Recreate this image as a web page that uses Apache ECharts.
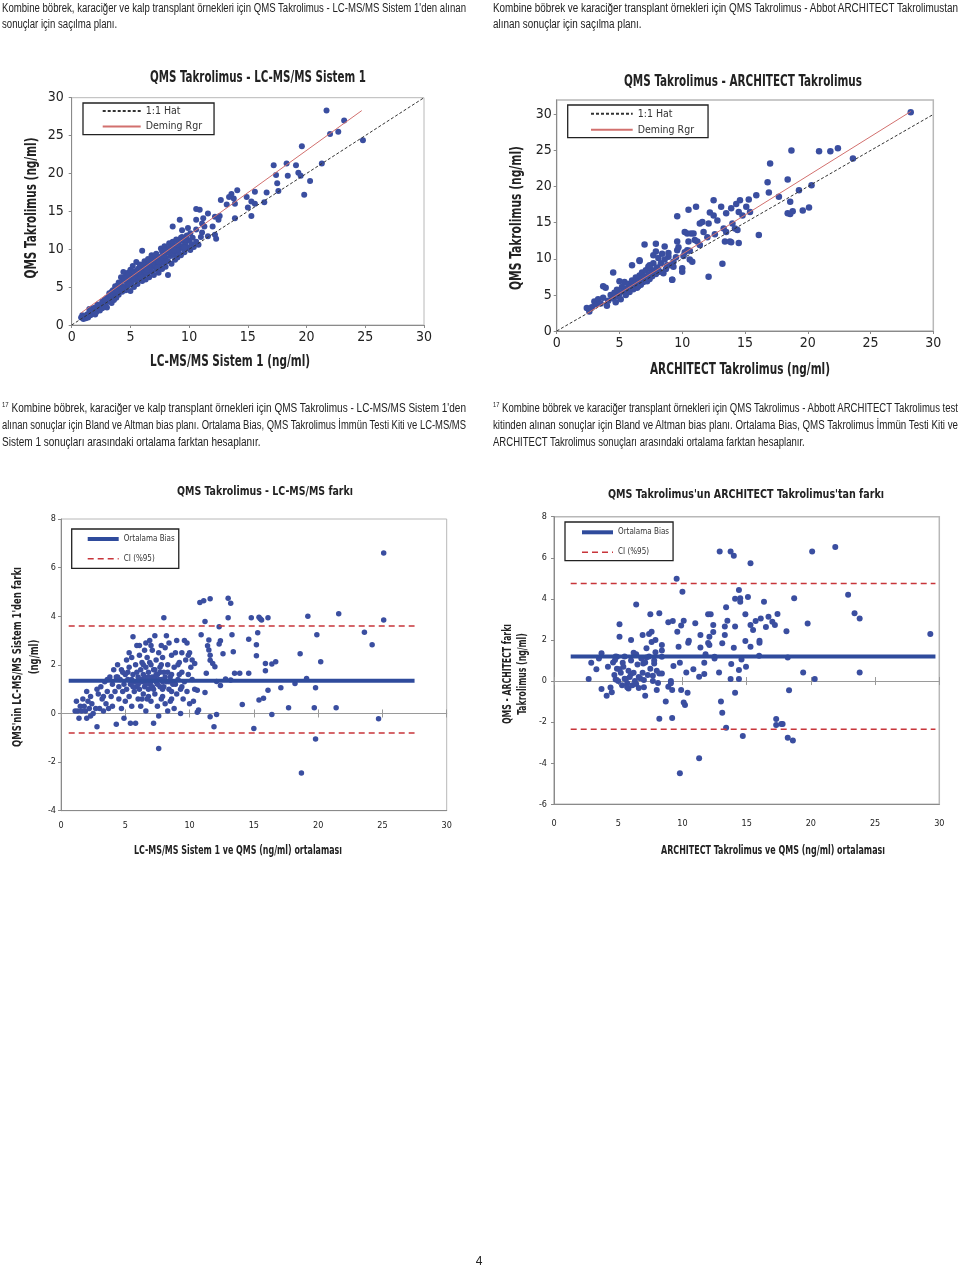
<!DOCTYPE html>
<html><head><meta charset="utf-8">
<script src="https://cdn.jsdelivr.net/npm/echarts@6/dist/echarts.min.js"></script>
<style>
html,body{margin:0;padding:0;background:#fff;}
#chart{position:absolute;left:0;top:0;width:960px;height:1269px;}
.blk{position:absolute;font-family:'Liberation Sans',Arial,sans-serif;color:#222;}
.ln{white-space:nowrap;font-size:12.5px;line-height:16px;width:max-content;transform-origin:0 0;}
.fn .ln{line-height:17px;}
sup{font-size:7.5px;vertical-align:top;line-height:1;position:relative;top:1px;}
#pg{position:absolute;left:474px;top:1254px;width:10px;text-align:center;font:12px 'Liberation Sans',Arial,sans-serif;color:#222;}
</style></head>
<body>
<div id="chart"></div>
<div class="blk" data-w="464" style="left:2px;top:0px">
  <div class="ln j"><span>Kombine böbrek, karaciğer ve kalp transplant örnekleri için QMS Takrolimus - LC-MS/MS Sistem 1'den alınan</span></div>
  <div class="ln"><span>sonuçlar için saçılma planı.</span></div>
</div>
<div class="blk" data-w="465" style="left:493px;top:0px">
  <div class="ln j"><span>Kombine böbrek ve karaciğer transplant örnekleri için QMS Takrolimus - Abbot ARCHITECT Takrolimustan</span></div>
  <div class="ln"><span>alınan sonuçlar için saçılma planı.</span></div>
</div>
<div class="blk fn" data-w="464" style="left:2px;top:400px">
  <div class="ln j"><span><sup>17</sup> Kombine böbrek, karaciğer ve kalp transplant örnekleri için QMS Takrolimus - LC-MS/MS Sistem 1'den</span></div>
  <div class="ln j"><span>alınan sonuçlar için Bland ve Altman bias planı. Ortalama Bias, QMS Takrolimus İmmün Testi Kiti ve LC-MS/MS</span></div>
  <div class="ln"><span>Sistem 1 sonuçları arasındaki ortalama farktan hesaplanır.</span></div>
</div>
<div class="blk fn" data-w="465" style="left:493px;top:400px">
  <div class="ln j"><span><sup>17</sup> Kombine böbrek ve karaciğer transplant örnekleri için QMS Takrolimus - Abbott ARCHITECT Takrolimus test</span></div>
  <div class="ln j"><span>kitinden alınan sonuçlar için Bland ve Altman bias planı. Ortalama Bias, QMS Takrolimus İmmün Testi Kiti ve</span></div>
  <div class="ln"><span>ARCHITECT Takrolimus sonuçları arasındaki ortalama farktan hesaplanır.</span></div>
</div>
<div id="pg">4</div>
<script>
// ---------- DATA ----------
// Chart 1: [LC-MS/MS Sistem 1, QMS]
const c1Points = [
[21.7,28.3],[23.2,27.0],[22.0,25.2],[22.7,25.5],[24.8,24.4],[19.6,23.6],[21.3,21.3],[17.2,21.1],[18.3,21.3],[19.1,21.1],
[19.3,20.1],[19.5,19.7],[17.4,19.8],[18.4,19.7],[20.3,19.0],[17.5,18.7],[17.6,17.7],[19.8,17.2],[16.6,17.5],[16.4,16.2],
[15.6,17.6],[14.9,16.9],[15.3,16.3],[15.0,15.5],[15.6,16.0],[15.3,14.4],[14.1,17.8],[13.6,17.3],[13.8,16.7],[13.4,16.9],
[13.9,16.0],[13.9,14.1],[12.7,16.5],[13.2,15.9],[12.6,14.4],[12.5,13.9],[12.2,14.3],[11.6,14.7],[10.9,15.2],[10.6,15.3],
[11.2,14.1],[10.6,13.9],[11.1,13.4],[11.3,13.0],[12.0,13.0],[11.6,11.7],[12.2,11.9],[12.3,11.4],[11.1,12.2],[10.6,12.6],
[9.2,13.9],[8.6,13.0],[9.4,12.5],[9.9,12.8],[10.1,12.1],[8.2,6.6],[6.0,9.8],
[0.8,1.0],[0.9,1.3],[1.0,0.8],[1.1,1.1],[1.2,0.9],[1.3,1.4],[1.4,1.0],[1.5,1.7],[1.5,2.1],[1.6,1.3],[1.7,2.0],[1.8,1.6],
[1.8,2.2],[1.9,1.9],[2.0,2.3],[2.1,1.7],[2.2,2.1],[2.3,2.5],[2.4,1.9],[2.5,2.6],[2.6,3.1],[2.7,2.4],[2.8,3.3],[2.9,2.8],
[3.0,3.6],[3.0,2.3],[3.1,3.1],[3.2,4.2],[3.3,3.5],[3.4,2.9],[3.5,4.6],[3.5,3.8],[3.6,4.1],[3.7,5.1],[3.8,3.6],[3.9,4.5],
[4.0,5.6],[4.0,4.0],[4.1,4.9],[4.2,6.3],[4.2,5.3],[4.3,4.4],[4.4,5.9],[4.4,7.0],[4.5,5.0],[4.6,6.4],[4.6,4.6],[4.7,5.6],
[4.8,6.9],[4.8,5.2],[4.9,6.1],[5.0,7.3],[5.0,5.5],[5.0,4.5],[5.1,6.6],[5.2,5.9],[5.2,7.8],[5.3,6.3],[5.3,5.0],[5.4,7.1],
[5.5,6.0],[5.5,8.3],[5.6,6.7],[5.6,5.4],[5.7,7.5],[5.8,6.2],[5.8,8.0],[5.9,7.0],[6.0,5.8],[6.0,7.7],[6.1,6.5],[6.2,8.4],
[6.2,7.2],[6.3,6.0],[6.4,7.9],[6.4,6.8],[6.5,8.7],[6.5,7.4],[6.6,6.3],[6.7,8.1],[6.8,7.0],[6.8,9.2],[6.9,7.7],[7.0,8.5],
[7.0,6.6],[7.1,7.9],[7.2,9.4],[7.2,7.3],[7.3,8.3],[7.4,6.9],[7.4,9.0],[7.5,7.8],[7.6,8.7],[7.6,10.1],[7.7,7.4],[7.8,9.3],
[7.8,8.2],[7.9,10.4],[8.0,8.8],[8.0,7.7],[8.1,9.6],[8.2,8.4],[8.3,10.8],[8.4,9.1],[8.5,8.1],[8.5,10.0],[8.6,11.0],[8.7,9.3],
[8.8,10.5],[8.8,8.6],[8.9,11.3],[9.0,9.7],[9.0,8.9],[9.1,10.9],[9.2,10.1],[9.3,11.5],[9.3,9.2],[9.4,10.4],[9.5,11.1],[9.6,9.6],
[9.7,10.7],[9.8,11.8],[9.9,10.2],[10.0,11.2],[10.1,9.9],[10.2,10.7],[10.3,11.5],[10.4,10.3],[10.6,11.0],[10.8,10.6],[11.0,11.6],
[3.9,5.2],[4.5,6.0],[5.1,5.5],[5.4,6.5],[5.7,6.9],[6.1,7.4],[6.3,7.0],[6.6,7.7],[6.9,8.3],[7.1,8.6],[7.3,7.6],[7.7,8.9],
[8.3,9.5],[8.6,9.8],[9.1,9.6],[9.5,10.3],[2.0,1.4],[2.2,2.7],[2.6,2.2],[3.3,4.0],[3.6,3.3],[4.3,4.9],[4.9,5.4],[5.9,6.3],
[6.7,7.3],[7.5,8.4],[8.9,9.9],
[5.4,6.8],[5.6,7.3],[5.9,7.6],[6.1,8.0],[6.3,7.6],[6.6,8.5],[6.9,8.9],[7.1,9.2],[7.4,8.3],[7.7,9.7],[8.0,9.9],[8.3,10.2],
[8.6,10.4],[9.0,10.6],[9.4,11.6],[9.7,11.3],[4.1,5.4],[4.7,6.2],[3.4,4.4],[2.9,3.4],[4.9,6.6],[5.2,6.2],[6.4,7.3],[7.9,9.1],
[8.7,9.9],[9.6,10.2]
];
const c1Deming = [[0.8,1.6],[24.7,28.3]];
const identityLine = [[0,0],[30,30]];

// Chart 2: [ARCHITECT, QMS]
const c2Points = [
[28.2,30.3],[23.6,23.9],[22.4,25.3],[21.8,24.9],[20.9,24.9],[18.7,25.0],[17.0,23.2],[16.8,20.6],[16.9,19.2],[18.4,21.0],
[17.7,18.6],[19.3,19.5],[20.3,20.2],[18.6,17.9],[20.1,17.1],[19.6,16.7],[18.4,16.3],[18.8,16.6],[18.6,16.2],[16.1,13.3],
[15.9,18.8],[15.3,18.2],[14.6,18.1],[15.1,17.2],[15.4,16.5],[14.5,16.5],[14.3,17.6],[13.9,17.0],[13.5,16.3],[13.1,17.2],
[12.5,18.1],[12.2,16.4],[12.5,16.0],[12.8,15.3],[13.3,14.2],[14.0,14.9],[14.2,14.2],[13.5,13.7],[14.4,14.0],[13.4,12.4],
[13.9,12.3],[14.5,12.2],[12.1,14.9],[11.7,13.7],[11.4,14.9],[11.1,17.2],[10.5,16.8],[9.6,15.9],[10.9,13.5],[10.4,13.5],
[11.0,12.6],[11.4,11.9],[10.5,12.4],[9.6,12.4],[9.6,11.2],[10.1,10.4],[10.6,11.1],[10.8,9.6],[10.6,9.9],[10.0,8.2],
[12.1,7.5],[13.2,9.3],[9.2,7.1],[9.3,8.9],[8.8,9.1],[7.9,12.1],[7.0,12.0],[8.6,11.7],[7.9,11.0],[8.4,10.7],[8.9,10.3],
[6.6,9.7],[6.0,9.1],[7.3,8.9],[7.7,9.4],[4.5,8.1],[3.7,6.2],
[2.4,3.2],[2.6,2.7],[2.8,3.3],[3.0,4.1],[3.1,3.7],[3.3,4.4],[3.5,3.8],[3.7,4.6],[3.9,6.0],[4.0,3.5],[4.1,4.2],[4.3,5.0],
[4.5,4.5],[4.6,5.3],[4.7,4.0],[4.8,5.7],[4.9,4.8],[5.0,6.9],[5.0,5.2],[5.1,4.4],[5.2,6.1],[5.3,5.5],[5.4,6.8],[5.5,5.0],
[5.6,5.9],[5.7,6.5],[5.8,5.4],[5.9,6.2],[6.0,7.0],[6.1,5.8],[6.2,6.6],[6.3,7.4],[6.4,6.0],[6.5,6.9],[6.6,9.8],[6.6,7.7],
[6.7,6.4],[6.8,7.2],[6.8,8.1],[6.9,6.8],[7.0,7.5],[7.1,8.4],[7.2,6.9],[7.3,7.8],[7.4,9.1],[7.4,7.2],[7.5,8.6],[7.6,7.6],
[7.7,10.5],[7.8,8.3],[7.9,7.9],[8.0,8.8],[8.1,10.1],[8.2,8.2],[8.3,9.4],[8.5,8.0],[8.6,9.9],[8.7,8.6],[8.9,10.8],[9.0,9.1],
[9.2,7.1],[9.3,9.6],[9.5,10.2],[9.7,11.6],[10.0,8.7],[10.2,10.9],[11.6,15.1],[10.7,13.5],[10.2,13.7],[10.4,11.2],[13.8,12.4],
[6.5,6.2],[7.1,7.0],[7.6,8.0],[8.1,8.4],[12.0,13.0],[12.6,13.4],[11.2,12.4],[14.8,16.0]
];
const c2Deming = [[2.4,2.4],[28.2,30.4]];

// Chart 3: [ortalama, fark]  (LC-MS/MS)
const c3Points = [
[25.1,6.6],[25.1,3.85],[23.6,3.34],[24.2,2.83],[24.7,-0.22],[21.6,4.1],[21.4,0.24],[19.2,4.0],[19.9,3.24],[20.2,2.13],
[19.8,1.06],[19.7,0.24],[19.8,-1.05],[18.7,-2.45],[18.6,2.46],[19.1,1.44],[18.2,1.23],[17.7,0.24],[17.1,1.06],[16.7,2.13],
[16.4,2.03],[15.9,2.06],[15.9,1.76],[16.1,0.96],[15.75,0.63],[15.4,0.55],[16.4,-0.04],[16.1,3.94],[15.6,3.85],[15.5,3.9],
[15.4,3.96],[15.3,3.32],[15.2,2.83],[15.2,2.37],[15.0,-0.62],[14.8,3.94],[14.6,3.05],[14.6,1.65],[14.1,0.37],[13.9,1.65],
[13.5,1.65],[13.2,1.38],[13.3,3.24],[13.4,2.54],[13.0,3.94],[13.0,4.74],[13.2,4.53],[12.8,1.42],[12.6,2.46],[12.4,1.15],
[12.4,2.99],[12.3,2.86],[12.3,3.57],[12.1,-0.04],[12.1,1.32],[11.97,1.92],[11.8,2.06],[11.6,2.19],[11.6,2.4],[11.6,-0.14],
[11.9,-0.55],[11.6,4.72],[11.5,2.61],[11.5,3.02],[11.4,2.79],[11.2,3.78],[11.1,4.64],[10.8,4.56],[10.9,3.24],[11.3,1.65],
[11.2,0.86],[10.6,0.05],[10.7,0.14],[10.6,0.96],[10.4,2.06],
[1.1,0.1],[1.2,0.5],[1.3,0.1],[1.4,-0.2],[1.5,0.3],[1.6,0.1],[1.7,0.6],[1.8,0.3],[1.9,0.1],[2.0,-0.2],[2.0,0.9],[2.1,0.5],
[2.2,0.2],[2.3,0.7],[2.3,-0.1],[2.4,0.4],[2.5,0.0],[2.7,0.2],[2.8,1.0],[2.8,-0.55],[2.9,0.8],[3.0,0.2],[3.1,1.1],[3.2,0.6],
[3.3,0.1],[3.4,1.3],[3.5,0.4],[3.6,0.9],[3.7,0.2],[3.8,1.5],[3.9,0.7],[4.0,1.2],[4.0,0.3],[4.1,1.8],[4.2,0.9],[4.3,-0.44],
[4.3,1.5],[4.4,2.0],[4.5,0.6],[4.5,1.1],[4.6,1.4],[4.7,0.2],[4.7,1.8],[4.8,0.9],[4.9,-0.2],[4.9,1.2],[5.0,1.6],[5.0,0.5],
[5.1,2.2],[5.1,1.0],[5.2,1.4],[5.3,0.7],[5.3,1.9],[5.4,1.2],[5.4,-0.4],[5.5,2.3],[5.5,0.3],[5.6,1.6],[5.6,3.16],[5.7,0.9],
[5.7,1.3],[5.8,2.0],[5.8,-0.4],[5.9,1.1],[5.9,2.8],[6.0,0.6],[6.0,1.5],[6.1,2.4],[6.1,1.0],[6.2,1.8],[6.2,0.3],[6.3,1.3],
[6.3,2.1],[6.4,0.8],[6.4,1.6],[6.5,2.6],[6.5,1.1],[6.6,0.1],[6.6,1.9],[6.7,1.4],[6.7,2.3],[6.8,0.7],[6.8,1.7],[6.9,3.0],
[6.9,1.2],[7.0,2.0],[7.0,0.5],[7.1,1.5],[7.1,2.6],[7.2,-0.4],[7.2,1.0],[7.3,1.8],[7.3,3.2],[7.4,1.3],[7.4,2.2],[7.5,0.3],
[7.5,1.6],[7.6,2.5],[7.6,-1.44],[7.6,-0.1],[7.7,1.1],[7.7,1.9],[7.8,0.6],[7.8,1.4],[7.9,2.3],[7.9,1.0],[8.0,1.7],[8.0,3.94],
[8.1,0.4],[8.1,2.7],[8.2,1.3],[8.2,3.2],[8.3,0.1],[8.3,2.0],[8.4,1.0],[8.5,1.5],[8.5,0.5],[8.6,2.4],[8.7,1.2],[8.8,0.2],
[8.8,1.9],[8.9,2.5],[9.0,0.8],[9.0,3.0],[9.1,1.4],[9.2,2.1],[9.3,0.0],[9.3,1.0],[9.4,2.5],[9.4,1.7],[9.5,0.6],[9.6,3.0],
[9.6,1.3],[9.7,2.2],[9.8,0.9],[9.9,1.6],[10.0,2.5],[10.0,0.4],[10.1,1.9],[10.2,2.2],[10.3,0.5],[10.4,1.0],
[6.0,1.2],[6.5,1.5],[7.0,1.3],[7.5,1.2],[8.0,1.1],[6.8,1.0],[7.3,1.5],[5.5,1.4],[8.6,0.9],[9.2,1.6],
[5.2,1.7],[5.6,1.1],[5.9,1.7],[6.2,1.4],[6.4,2.0],[6.6,1.2],[6.8,1.5],[6.9,2.1],[7.1,1.1],[7.2,1.8],[7.4,1.6],[7.6,1.4],
[7.7,1.7],[7.8,2.0],[7.9,1.3],[8.1,1.5],[8.3,1.7],[8.4,1.3],[8.6,1.6],[8.9,1.2],[9.1,2.0],[9.4,1.1],[6.3,0.6],[6.7,0.6],
[7.3,0.8],[7.9,0.7],[8.6,0.6],[5.3,2.5],[6.1,2.8],[6.6,2.9],[7.0,2.8],[7.8,2.8],[8.4,2.9],[9.8,2.9],[9.9,2.4],[10.2,1.4],
[4.4,1.5],[4.8,1.7],[3.6,1.4],[3.3,0.7]
];
const c3Bias = 1.35;
const c3CI = [3.6, -0.8];
const c3Range = [0.6, 27.5];

// Chart 4: [ortalama, fark]  (ARCHITECT)
const c4Points = [
[29.3,2.29],[23.8,0.41],[23.8,3.04],[23.4,3.3],[22.9,4.2],[21.9,6.52],[20.1,6.3],[20.3,0.1],[19.75,2.8],[19.4,0.41],
[18.7,4.03],[18.6,-2.9],[18.2,-2.76],[18.3,-0.45],[18.2,1.14],[18.1,2.42],[17.8,-2.09],[17.7,-2.09],[17.4,3.26],[17.3,-2.14],
[17.3,-1.85],[17.2,2.73],[17.0,2.89],[16.7,3.13],[16.5,2.63],[16.35,3.86],[16.1,3.05],[16.0,1.87],[15.97,1.23],[16.0,1.96],
[15.7,2.92],[15.5,2.48],[15.3,2.73],[15.3,5.73],[15.3,1.67],[15.1,4.09],[14.95,0.7],[14.9,3.25],[14.9,1.95],[14.5,4.03],
[14.5,3.86],[14.4,4.43],[14.7,-2.67],[14.6,1.05],[14.4,0.54],[14.4,0.1],[14.1,4.0],[14.1,2.65],[14.1,-0.57],[14.0,6.1],
[13.75,6.3],[14.0,1.62],[13.8,0.83],[13.75,0.1],[13.4,3.59],[13.5,2.94],[13.4,-2.27],[13.3,2.65],[13.3,2.24],[13.1,1.84],
[13.1,-1.54],[13.0,-1.0],[12.9,6.3],[12.85,0.41],[12.5,1.18],[12.5,1.1],[12.4,2.39],[12.4,2.73],[12.2,3.25],[12.0,3.25],
[12.1,2.16],[12.1,1.75],[12.0,1.85],[11.8,1.3],[11.7,0.89],[11.7,0.34],[11.4,1.63],[11.4,2.24],[11.3,-3.76],[11.3,0.21],
[11.0,2.81],[10.85,0.58],[10.5,1.96],[10.45,1.87],[10.3,0.41],[10.4,-0.57],[10.2,-1.17],[10.1,-1.05],[10.1,2.94],[10.0,4.35],
[9.9,2.7],[9.9,-0.44],[9.8,-4.49],[9.8,0.89],[9.7,1.67],[9.6,2.4],[9.55,4.98],[9.3,0.73],[9.25,2.92],[9.2,-1.8],
[9.2,-0.44],[9.1,-0.11],[9.1,0.0],[8.9,-0.28],[8.9,2.86],[8.7,-1.0],[8.4,1.18],[8.4,1.49],[8.4,1.75],[8.4,0.37],
[8.2,-1.83],[8.2,0.37],[8.2,3.3],[8.0,-0.44],[7.9,1.4],[7.9,2.0],[7.8,0.86],[7.7,0.26],[7.6,2.4],[7.4,2.29],
[7.5,3.25],[7.2,1.14],[7.1,-0.71],[7.0,0.05],[6.95,0.86],[6.9,2.24],[6.7,0.13],[6.6,-0.34],[6.4,-0.15],[6.4,3.73],
[6.2,1.38],[6.0,2.0],[6.0,0.34],[5.8,-0.36],[5.7,-0.11],[5.5,0.11],[5.35,0.89],[5.1,2.16],[5.1,2.76],[5.1,0.58],
[4.9,1.18],[4.75,1.02],[4.8,0.08],[4.5,-0.55],[4.4,-0.32],[4.2,0.7],[4.1,-0.71],[3.7,-0.39],[3.7,1.35],[3.5,1.1],
[3.3,0.58],[2.9,0.89],[2.7,0.1],
[4.6,0.9],[4.7,0.3],[4.9,0.6],[5.0,0.0],[5.2,0.4],[5.3,-0.2],[5.4,0.7],[5.6,0.1],[5.7,-0.3],[5.8,0.5],[5.9,0.2],[6.0,1.0],
[6.1,-0.2],[6.2,0.4],[6.3,0.0],[6.5,0.8],[6.6,0.2],[6.8,1.1],[6.9,0.4],[7.0,-0.3],[7.1,0.9],[7.3,0.3],[7.4,1.2],[7.5,0.6],
[7.7,0.0],[7.8,1.0],[8.0,0.5],[8.1,-0.1],[5.5,1.2],[6.4,1.3],[4.8,1.2],[7.2,1.6],[7.6,1.9]
];
const c4Bias = 1.2;
const c4CI = [4.75, -2.35];
const c4Range = [1.3, 29.7];

// ---------- TEXT FITTING (condensed look) ----------
document.querySelectorAll('.blk').forEach(blk => {
  const W = +blk.dataset.w;
  const lines = [...blk.querySelectorAll('.ln')];
  let sFull = null;
  lines.forEach(ln => {
    if (ln.classList.contains('j')) {
      const w = ln.firstElementChild.getBoundingClientRect().width;
      const s = W / w;
      ln.style.transform = 'scaleX(' + s + ')';
      if (sFull === null) sFull = s;
    }
  });
  lines.forEach(ln => { if (!ln.classList.contains('j')) ln.style.transform = 'scaleX(' + (sFull || 0.8) + ')'; });
});

// ---------- STYLE / BUILD ----------
const FONT = "'Liberation Sans Narrow','DejaVu Sans Condensed','Roboto Condensed','Liberation Sans',sans-serif";
const DOT = '#3a4ea0';
const BIAS = '#2f4b9c';
const CIRED = '#c8353a';
const DEMING = '#d2706e';
const AX = '#8a8a8a';
const FRAME = '#b8b8b8';
const TXT = '#222';
const mctx = document.createElement('canvas').getContext('2d');

function vAxis(gridIndex, min, max, interval, fontSize, margin, opt) {
  opt = opt || {};
  return {
    type: 'value', gridIndex, min, max, interval,
    axisLine: {show: true, onZero: false, lineStyle: {color: AX, width: 1}},
    axisTick: {show: opt.ticks !== false, length: 3, lineStyle: {color: AX}},
    axisLabel: {fontFamily: FONT, fontSize, color: TXT, margin, showMaxLabel: opt.showMax !== false},
    splitLine: {show: false}
  };
}
function zeroAxis(gridIndex, yIdx, inside) {
  return {
    type: 'value', gridIndex, min: 0, max: 30, interval: 5,
    axisLine: {show: true, onZero: true, onZeroAxisIndex: yIdx, lineStyle: {color: '#9a9a9a', width: 1}},
    axisTick: {show: true, inside, length: 4, lineStyle: {color: '#9a9a9a'}},
    axisLabel: {show: false}, splitLine: {show: false}
  };
}
function hline(y, r) { return [[r[0], y], [r[1], y]]; }
function lineSeries(name, xi, yi, data, ls, z) {
  return {type: 'line', name, xAxisIndex: xi, yAxisIndex: yi, data, symbol: 'none', showSymbol: false,
    lineStyle: ls, itemStyle: {color: ls.color}, z: z || 3, silent: true, animation: false};
}
function scatter(xi, yi, data, size) {
  return {type: 'scatter', xAxisIndex: xi, yAxisIndex: yi, data, symbolSize: size,
    itemStyle: {color: DOT, opacity: 1}, z: 2, silent: true};
}
function legendBox(names, left, top, padding, itemWidth, itemGap, fontSize, lineWidths) {
  return {
    data: names.map((n, i) => lineWidths ? {name: n, lineStyle: {width: lineWidths[i]}, itemStyle: {opacity: 0}} : {name: n, itemStyle: {opacity: 0}}),
    orient: 'vertical', left, top, padding, itemWidth, itemHeight: 10, itemGap,
    itemStyle: {opacity: 0},
    borderColor: '#222', borderWidth: 1.3, backgroundColor: '#fff', selectedMode: false,
    textStyle: {fontFamily: FONT, fontSize, color: '#333', lineHeight: 10}
  };
}
// condensed bold text centred at (cx, cy), squeezed to the measured width of the reference
function gText(cx, cy, text, size, rot, targetW, lh) {
  const font = 'bold ' + size + 'px ' + FONT;
  mctx.font = font;
  const s = targetW / mctx.measureText(text.split('\n')[0]).width;
  return {type: 'text', x: cx, y: cy, rotation: rot ? Math.PI / 2 : 0, scaleX: s, scaleY: 1, silent: true,
    style: {text, font, fill: TXT, align: 'center', verticalAlign: 'middle', lineHeight: lh || size + 4}};
}

const option = {
  animation: false,
  backgroundColor: 'transparent',
  grid: [
    {left: 71.7, top: 97.7, width: 352.3, height: 227.3, show: true, borderColor: FRAME, borderWidth: 1, backgroundColor: 'transparent'},
    {left: 556.7, top: 100, width: 376.6, height: 231, show: true, borderColor: FRAME, borderWidth: 1.5, backgroundColor: 'transparent'},
    {left: 61, top: 519, width: 385.7, height: 291.7, show: true, borderColor: FRAME, borderWidth: 1, backgroundColor: 'transparent'},
    {left: 554, top: 516.7, width: 385.3, height: 287.6, show: true, borderColor: FRAME, borderWidth: 1.5, backgroundColor: 'transparent'}
  ],
  xAxis: [
    vAxis(0, 0, 30, 5, 14, 5),
    vAxis(1, 0, 30, 5, 14, 5),
    vAxis(2, 0, 30, 5, 9, 10, {ticks: false}),
    zeroAxis(2, 2, true),
    zeroAxis(2, 2, false),
    vAxis(3, 0, 30, 5, 9, 15, {ticks: false}),
    zeroAxis(3, 3, true),
    zeroAxis(3, 3, false)
  ],
  yAxis: [
    vAxis(0, 0, 30, 5, 14, 8),
    vAxis(1, 0, 32, 5, 14, 5, {showMax: false}),
    vAxis(2, -4, 8, 2, 9, 5),
    vAxis(3, -6, 8, 2, 9, 7)
  ],
  legend: [
    legendBox(['1:1 Hat', 'Deming Rgr'], 83, 103, [2.5, 12, 2.5, 18.7], 38, 4.6, 10.5),
    legendBox(['1:1 Hat', 'Deming Rgr'], 567.7, 105, [3.3, 14, 2.4, 22.3], 41.7, 5, 10.5),
    legendBox(['Ortalama Bias', 'CI (%95)'], 71.7, 529, [5, 4, 4.6, 14], 31, 9.7, 8, [4, 1.5]),
    legendBox(['Ortalama Bias', 'CI (%95)'], 565, 522, [5.3, 4, 3.4, 15], 31, 10, 8, [4, 1.5])
  ],
  graphic: [
    gText(258, 78, 'QMS Takrolimus - LC-MS/MS Sistem 1', 15, false, 216),
    gText(743, 82, 'QMS Takrolimus - ARCHITECT Takrolimus', 15, false, 238),
    gText(265, 492, 'QMS Takrolimus - LC-MS/MS farkı', 13, false, 176),
    gText(746, 495, "QMS Takrolimus'un ARCHITECT Takrolimus'tan farkı", 13, false, 276),
    gText(32, 208, 'QMS Takrolimus (ng/ml)', 15, true, 141),
    gText(230, 362, 'LC-MS/MS Sistem 1 (ng/ml)', 15, false, 160),
    gText(517, 218, 'QMS Takrolimus (ng/ml)', 15, true, 144),
    gText(740, 370, 'ARCHITECT Takrolimus (ng/ml)', 15, false, 180),
    gText(26.6, 657, "QMS'nin LC-MS/MS Sistem 1'den farkı\n(ng/ml)", 12, true, 180, 17),
    gText(238, 851, 'LC-MS/MS Sistem 1 ve QMS (ng/ml) ortalaması', 12, false, 208),
    gText(515.5, 674, 'QMS - ARCHITECT farkı\nTakrolimus (ng/ml)', 12, true, 100, 15),
    gText(773, 851, 'ARCHITECT Takrolimus ve QMS (ng/ml) ortalaması', 12, false, 224)
  ],
  series: [
    scatter(0, 0, c1Points, 6),
    lineSeries('1:1 Hat', 0, 0, identityLine, {color: '#333', width: 1, type: [3, 2]}),
    lineSeries('Deming Rgr', 0, 0, c1Deming, {color: DEMING, width: 1}),
    scatter(1, 1, c2Points, 6.5),
    lineSeries('1:1 Hat', 1, 1, identityLine, {color: '#333', width: 1, type: [3, 2]}),
    lineSeries('Deming Rgr', 1, 1, c2Deming, {color: DEMING, width: 1}),
    scatter(2, 2, c3Points, 5.5),
    lineSeries('Ortalama Bias', 2, 2, hline(c3Bias, c3Range), {color: BIAS, width: 4}, 4),
    lineSeries('CI (%95)', 2, 2, hline(c3CI[0], c3Range), {color: CIRED, width: 1.5, type: [6, 4]}),
    lineSeries('CI (%95)', 2, 2, hline(c3CI[1], c3Range), {color: CIRED, width: 1.5, type: [6, 4]}),
    scatter(5, 3, c4Points, 6),
    lineSeries('Ortalama Bias', 5, 3, hline(c4Bias, c4Range), {color: BIAS, width: 4}, 4),
    lineSeries('CI (%95)', 5, 3, hline(c4CI[0], c4Range), {color: CIRED, width: 1.5, type: [6, 4]}),
    lineSeries('CI (%95)', 5, 3, hline(c4CI[1], c4Range), {color: CIRED, width: 1.5, type: [6, 4]})
  ]
};
const chart = echarts.init(document.getElementById('chart'), null, {renderer: 'canvas'});
chart.setOption(option);
</script>
</body></html>
